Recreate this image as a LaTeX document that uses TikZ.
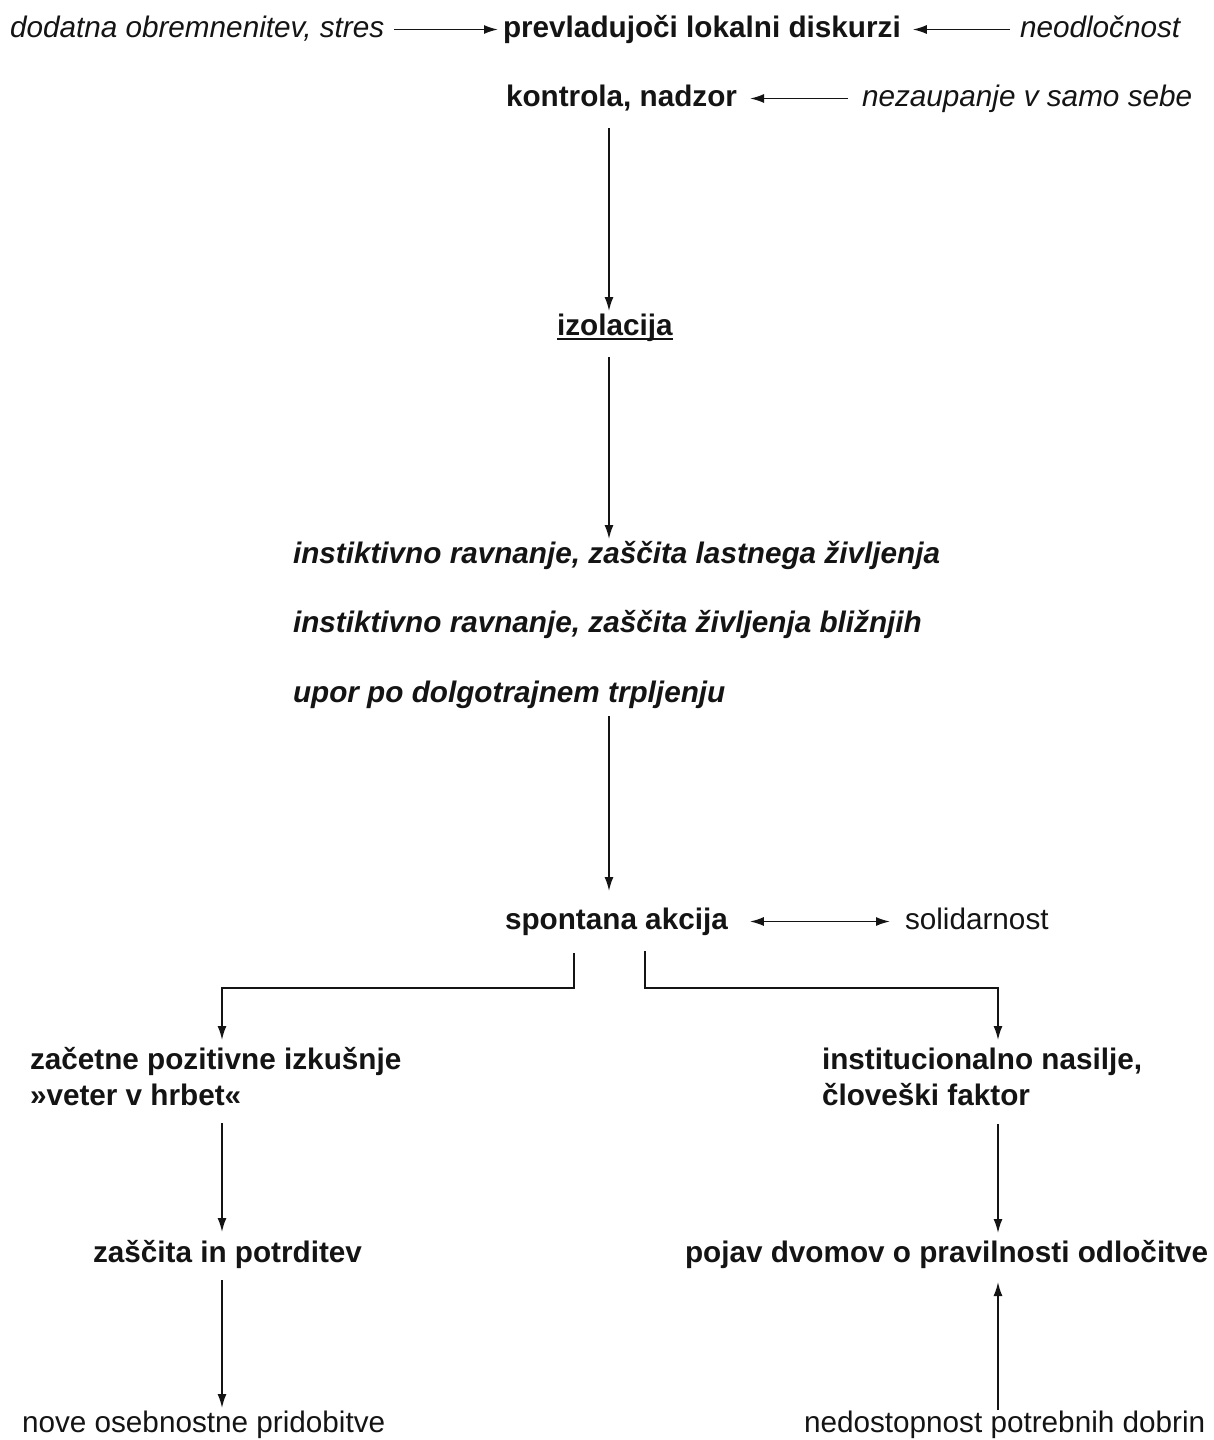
\documentclass[tikz,border=0pt]{standalone}
\usepackage{fontspec}
\setmainfont{Liberation Sans}
\usetikzlibrary{arrows.meta}
\begin{document}
\begin{tikzpicture}[x=1pt,y=-1pt,
  txt/.style={inner sep=0pt,outer sep=0pt,text height=22pt,text depth=7pt,anchor=base west,
              font=\fontsize{29.7}{36}\selectfont,text=black!92},
  bx/.style={txt,font=\fontsize{29.7}{36}\selectfont\bfseries},
  it/.style={txt,font=\fontsize{29.7}{36}\selectfont\itshape},
  bi/.style={txt,font=\fontsize{29.7}{36}\selectfont\bfseries\itshape},
  tip/.tip={Latex[length=14pt,width=9pt]},
  arr/.style={draw=black!92,line width=1.7pt,-tip},
  darr/.style={draw=black!92,line width=1.7pt,tip-tip}]
\fill[white] (0,0) rectangle (1214,1440);
\useasboundingbox (0,0) rectangle (1214,1440);

\coordinate (sp) at (609,0);
\coordinate (dL) at (574,0);
\coordinate (dR) at (645,0);
\coordinate (colL) at (222,988);
\coordinate (colR) at (998,988);

\node[it] (dod) at (10,37) {dodatna obremnenitev, stres};
\node[bx] (prev) at (503,37) {prevladujoči lokalni diskurzi};
\node[it] (neod) at (1020,37) {neodločnost};
\node[bx] (kon) at (506,106) {kontrola, nadzor};
\node[it] (nez) at (862,106) {nezaupanje v samo sebe};
\node[bx] (izo) at (557,335) {izolacija};
\node[bi] (inst1) at (293,563) {instiktivno ravnanje, zaščita lastnega življenja};
\node[bi] (inst2) at (293,632) {instiktivno ravnanje, zaščita življenja bližnjih};
\node[bi] (upor) at (293,702) {upor po dolgotrajnem trpljenju};
\node[bx] (spon) at (505,929) {spontana akcija};
\node[txt] (sol) at (905,929) {solidarnost};
\node[bx] (zac1) at (30,1069) {začetne pozitivne izkušnje};
\node[bx] (zac2) at (30,1105) {»veter v hrbet«};
\node[bx] (ins1) at (822,1069) {institucionalno nasilje,};
\node[bx] (ins2) at (822,1105) {človeški faktor};
\node[bx] (zas) at (93,1262) {zaščita in potrditev};
\node[bx] (poj) at (685,1262) {pojav dvomov o pravilnosti odločitve};
\node[txt] (nove) at (22,1432) {nove osebnostne pridobitve};
\node[txt] (nedo) at (804,1432) {nedostopnost potrebnih dobrin};

% underline of izolacija
\draw[black!92,line width=2.4pt] ([yshift=-4pt]izo.base west) -- ([yshift=-4pt]izo.base east);

% horizontal connectors
\draw[arr,shorten <=10pt,shorten >=5pt] (dod.east) -- (prev.west);
\draw[arr,shorten <=10pt,shorten >=12pt] (neod.west) -- (prev.east);
\draw[arr,shorten <=14pt,shorten >=13pt] (nez.west) -- (kon.east);
\draw[darr,shorten <=22pt,shorten >=15pt] (spon.east) -- (sol.west);

% vertical spine
\draw[arr] ([yshift=-15pt]kon.south -| sp) -- ([yshift=2pt]izo.north -| sp);
\draw[arr] ([yshift=-15pt]izo.south -| sp) -- ([yshift=2pt]inst1.north -| sp);
\draw[arr] ([yshift=-7pt]upor.south -| sp) -- ([yshift=16pt]spon.north -| sp);

% branches
\draw[arr] ([yshift=-17pt]spon.south -| dL) -- (dL |- colL) -- (colL) -- ([yshift=7pt]zac1.north -| colL);
\draw[arr] ([yshift=-15pt]spon.south -| dR) -- (dR |- colR) -- (colR) -- ([yshift=7pt]ins1.north -| colR);

% left column
\draw[arr] ([yshift=-11pt]zac2.south -| colL) -- ([yshift=8pt]zas.north -| colL);
\draw[arr] ([yshift=-11pt]zas.south -| colL) -- ([yshift=2pt]nove.north -| colL);

% right column
\draw[arr] ([yshift=-12pt]ins2.south -| colR) -- ([yshift=7pt]poj.north -| colR);
\draw[arr] (nedo.north -| colR) -- ([yshift=-13pt]poj.south -| colR);
\end{tikzpicture}
\end{document}
